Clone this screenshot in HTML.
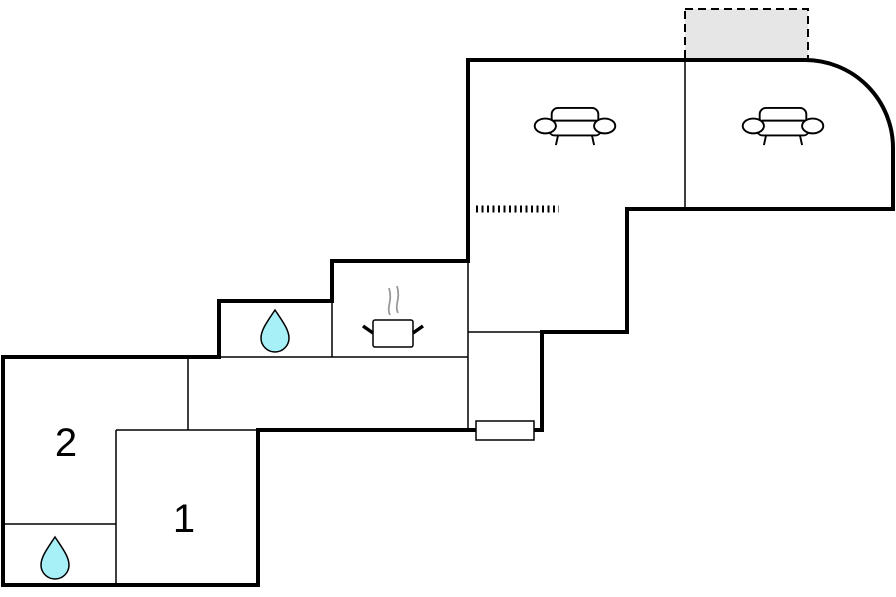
<!DOCTYPE html>
<html><head><style>html,body{margin:0;padding:0;background:#fff}svg{display:block}</style></head><body>
<svg width="896" height="597" viewBox="0 0 896 597" xmlns="http://www.w3.org/2000/svg">
<defs>
<g id="sofa" fill="#fff" stroke="#000" stroke-width="1.8">
<rect x="-22" y="-18" width="44" height="16" rx="6"/>
<rect x="-25" y="-6" width="50" height="14" rx="6"/>
<ellipse cx="-28" cy="-1" rx="10" ry="7"/>
<ellipse cx="28" cy="-1" rx="10" ry="7"/>
<line x1="-16" y1="8" x2="-18" y2="17"/><line x1="16" y1="8" x2="18" y2="17"/>
</g>
<g id="drop"><path d="M0,-24 C8,-12 14,-4 14,4 A14,14 0 0 1 -14,4 C-14,-4 -8,-12 0,-24Z" fill="#a8f0f8" stroke="#000" stroke-width="1.5"/></g>
</defs>
<rect x="685" y="9" width="123" height="51" fill="#e6e6e6" stroke="#000" stroke-width="2" stroke-dasharray="8,5"/>
<g stroke="#000" stroke-width="1.5" fill="none">
<line x1="188" y1="357" x2="188" y2="430"/>
<line x1="116" y1="430" x2="258" y2="430"/>
<line x1="116" y1="430" x2="116" y2="585"/>
<line x1="3" y1="524" x2="116" y2="524"/>
<line x1="219" y1="357" x2="468" y2="357"/>
<line x1="332" y1="261" x2="332" y2="357"/>
<line x1="468" y1="261" x2="468" y2="430"/>
<line x1="468" y1="332" x2="542" y2="332"/>
<line x1="685" y1="60" x2="685" y2="209"/>
</g>
<path d="M3,357 H219 V301 H332 V261 H468 V60 H805 A88,88 0 0 1 893,148 V209 H627 V332 H542 V430 H258 V585 H3 Z" fill="none" stroke="#000" stroke-width="4"/>
<rect x="476" y="421" width="58" height="19" fill="#fff" stroke="#000" stroke-width="1.5"/>
<line x1="476" y1="209" x2="559" y2="209" stroke="#000" stroke-width="7" stroke-dasharray="2,3.5"/>
<use href="#sofa" transform="translate(575,127) scale(1.06)"/>
<use href="#sofa" transform="translate(783,127) scale(1.06)"/>
<use href="#drop" x="275" y="334"/>
<use href="#drop" x="55" y="561"/>
<g>
<path d="M390,315 c-4,-8 3,-14 -1,-27 M398,313 c-4,-8 3,-14 -1,-27" stroke="#999" stroke-width="1.8" fill="none"/>
<rect x="373" y="320" width="40" height="27" rx="2" fill="#fff" stroke="#000" stroke-width="1.5"/>
<line x1="363" y1="326" x2="373" y2="333" stroke="#000" stroke-width="3.5"/>
<line x1="413" y1="333" x2="423" y2="326" stroke="#000" stroke-width="3.5"/>
</g>
<text x="66" y="456" font-family="Liberation Sans, sans-serif" font-size="40" text-anchor="middle">2</text>
<text x="184" y="532" font-family="Liberation Sans, sans-serif" font-size="40" text-anchor="middle">1</text>
</svg>
</body></html>
